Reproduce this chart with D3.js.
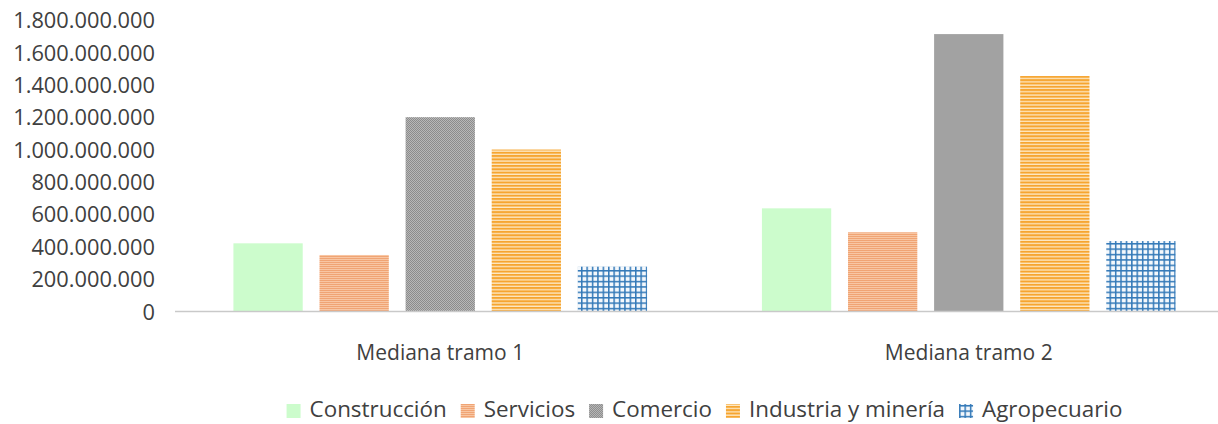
<!DOCTYPE html>
<html>
<head>
<meta charset="utf-8">
<script src="https://cdn.jsdelivr.net/npm/d3@7"></script>
<style>
  html, body { margin: 0; padding: 0; background: #ffffff; }
  svg { display: block; }
  text { font-family: "Open Sans", "Noto Sans", sans-serif; fill: #404040; }
</style>
</head>
<body>
<svg id="chart" width="1218" height="424"></svg>
<script>
// ---- data ----
const groups = ["Mediana tramo 1", "Mediana tramo 2"];
const seriesNames = ["Construcción", "Servicios", "Comercio", "Industria y minería", "Agropecuario"];
const construccion = [421000000, 637000000];
const servicios    = [349000000, 489000000];
const comercio     = [1200000000, 1713000000];
const industria    = [1000000000, 1454000000];
const agropecuario = [277000000, 435000000];
const yTicks = [0, 200000000, 400000000, 600000000, 800000000, 1000000000, 1200000000, 1400000000, 1600000000, 1800000000];

const seriesValues = [construccion, servicios, comercio, industria, agropecuario];
const rows = groups.map((g, gi) => ({
  group: g,
  values: seriesNames.map((s, si) => ({ series: s, si: si, value: seriesValues[si][gi] }))
}));

// ---- layout ----
const svg = d3.select("#chart");
const plotLeft = 176, plotRight = 1233, plotTop = 20, plotBottom = 311.5;

const x0 = d3.scaleBand().domain(groups).range([plotLeft, plotRight]).padding(0);
const x1 = d3.scaleBand().domain(seriesNames).range([0, x0.bandwidth()])
  .paddingInner(0.195).paddingOuter(0.667);
const y = d3.scaleLinear().domain([0, 1800000000]).range([plotBottom, plotTop]);

const locale = d3.formatLocale({ decimal: ",", thousands: ".", grouping: [3], currency: ["$", ""] });
const fmt = locale.format(",d");

// ---- patterns ----
const defs = svg.append("defs");
let p = defs.append("pattern").attr("id", "pat1").attr("patternUnits", "userSpaceOnUse")
  .attr("width", 4).attr("height", 2);
p.append("rect").attr("width", 4).attr("height", 2).attr("fill", "#f8c6a3");
p.append("rect").attr("width", 4).attr("height", 1).attr("fill", "#f0a474");
p = defs.append("pattern").attr("id", "pat2").attr("patternUnits", "userSpaceOnUse")
  .attr("width", 2).attr("height", 2);
p.append("rect").attr("width", 2).attr("height", 2).attr("fill", "#b8b8b8");
p.append("rect").attr("width", 1).attr("height", 1).attr("fill", "#8c8c8c");
p.append("rect").attr("x", 1).attr("y", 1).attr("width", 1).attr("height", 1).attr("fill", "#8c8c8c");
p = defs.append("pattern").attr("id", "pat3").attr("patternUnits", "userSpaceOnUse")
  .attr("width", 4).attr("height", 3.3);
p.append("rect").attr("width", 4).attr("height", 3.3).attr("fill", "#fde8c4");
p.append("rect").attr("width", 4).attr("height", 2).attr("fill", "#f6a530");
p = defs.append("pattern").attr("id", "pat4").attr("patternUnits", "userSpaceOnUse")
  .attr("width", 5.4).attr("height", 5.4);
p.append("rect").attr("width", 5.4).attr("height", 5.4).attr("fill", "#f4f8fc");
p.append("rect").attr("width", 1.5).attr("height", 5.4).attr("fill", "#3379b8");
p.append("rect").attr("width", 5.4).attr("height", 1.5).attr("fill", "#3379b8");

const fills = ["#ccfccc", "url(#pat1)", "url(#pat2)", "url(#pat3)", "url(#pat4)"];

// ---- y tick labels ----
const yAxis = d3.axisLeft(y).tickValues(yTicks).tickFormat(fmt).tickSize(0).tickPadding(0);
const yg = svg.append("g").attr("transform", `translate(155,0)`).call(yAxis);
yg.select(".domain").remove();
yg.selectAll("text").attr("font-family", "Open Sans, sans-serif").attr("font-size", 21.8)
  .attr("fill", "#404040").attr("dy", "0.35em");

// ---- bars ----
const g = svg.append("g");
g.selectAll("g.grp").data(rows).join("g").attr("class", "grp")
  .attr("transform", d => `translate(${x0(d.group)},0)`)
  .selectAll("rect").data(d => d.values).join("rect")
  .attr("x", d => x1(d.series))
  .attr("width", x1.bandwidth())
  .attr("y", d => y(d.value))
  .attr("height", d => y(0) - y(d.value))
  .attr("fill", d => fills[d.si]);

// ---- x axis ----
const xAxis = d3.axisBottom(x0).tickSize(0).tickPadding(0);
const xg = svg.append("g").attr("transform", `translate(0,${plotBottom})`).call(xAxis);
xg.select(".domain").attr("stroke", "#c9c9c9").attr("stroke-width", 1.5)
  .attr("d", `M${plotLeft - 1},0H${plotRight}`);
xg.selectAll("text").attr("font-family", "Open Sans, sans-serif").attr("font-size", 21)
  .attr("fill", "#404040").attr("y", 48.5).attr("dy", 0);

// ---- legend ----
const legend = svg.append("g");
const items = legend.selectAll("g").data(seriesNames).join("g");
items.append("rect").attr("width", 14).attr("height", 14).attr("y", 404)
  .attr("fill", (d, i) => fills[i]);
items.append("text").attr("x", 23).attr("y", 417).attr("font-size", 22.4).text(d => d);
let cx = 0;
const pos = [];
items.each(function(d, i) {
  const w = d3.select(this).select("text").node().getComputedTextLength();
  pos.push(cx);
  cx += 23 + w + 14;
});
const total = cx - 14;
const start = (plotLeft + plotRight) / 2 - total / 2;
items.attr("transform", (d, i) => `translate(${start + pos[i]},0)`);
</script>
</body>
</html>
